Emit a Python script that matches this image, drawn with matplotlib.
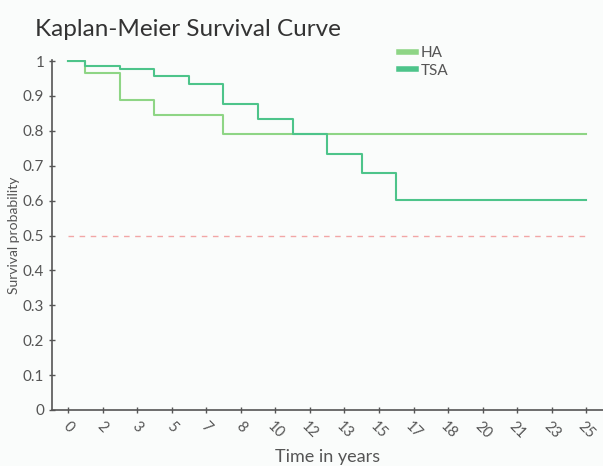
import matplotlib
matplotlib.use("Agg")
import matplotlib.pyplot as plt
import numpy as np

# Data
tick_labels = ["0", "2", "3", "5", "7", "8", "10", "12", "13", "15", "17", "18", "20", "21", "23", "25"]
ha_times = [0, 0.83, 2.5, 4.17, 7.5, 25]
ha_surv = [1.0, 0.967, 0.887, 0.844, 0.791, 0.791]
tsa_times = [0, 0.83, 2.5, 4.17, 5.83, 7.5, 9.17, 10.83, 12.5, 14.17, 15.83, 25]
tsa_surv = [1.0, 0.986, 0.976, 0.956, 0.933, 0.878, 0.834, 0.790, 0.734, 0.679, 0.603, 0.603]
y_ticks = [0, 0.1, 0.2, 0.3, 0.4, 0.5, 0.6, 0.7, 0.8, 0.9, 1]
y_tick_labels = ["0", "0.1", "0.2", "0.3", "0.4", "0.5", "0.6", "0.7", "0.8", "0.9", "1"]

plt.rcParams['font.family'] = ['Lato', 'DejaVu Sans']
FW = 'normal'
txt = '#555555'

fig = plt.figure(figsize=(6.03, 4.66), dpi=100)
fig.patch.set_facecolor('#fafcfb')
ax = fig.add_axes([0.0862, 0.1202, 0.9138, 0.7510])
ax.set_facecolor('#fafcfb')

ax.step(ha_times, ha_surv, where='post', color='#8ed585', lw=1.5, label='HA', zorder=3)
ax.step(tsa_times, tsa_surv, where='post', color='#4dc48a', lw=1.5, label='TSA', zorder=3)
ax.plot([0, 25], [0.5, 0.5], ls=(0, (4, 4)), color='#f2a6a6', lw=1.0)

ax.set_xlim(-0.77, 25.8)
ax.set_ylim(0, 1.003)
xt = np.linspace(0, 25, len(tick_labels))
ax.set_xticks(xt)
ax.set_xticklabels(tick_labels, rotation=-45, ha='center', fontsize=10.5, fontweight=FW, color=txt)
ax.set_yticks(y_ticks)
ax.set_yticklabels(y_tick_labels, fontsize=11, fontweight=FW, color=txt)
ax.tick_params(axis='both', direction='inout', length=5, width=1, color='#555555', pad=3)
ax.tick_params(axis='x', pad=4)
for s in ['top', 'right']:
    ax.spines[s].set_visible(False)
for s in ['left', 'bottom']:
    ax.spines[s].set_color('#555555')
    ax.spines[s].set_linewidth(1.2)

ax.set_xlabel('Time in years', fontsize=13, fontweight=FW, color=txt, labelpad=6)
ax.set_ylabel('Survival probability', fontsize=10, fontweight=FW, color=txt, labelpad=2)

fig.text(35/603, 1 - 30/466, 'Kaplan-Meier Survival Curve', fontsize=17.5, fontweight=FW,
         color='#333333', ha='left', va='center')

leg = ax.legend(loc='upper left', bbox_to_anchor=(399/603, 1 - 46/466), frameon=False,
                handlelength=1.1, handletextpad=0.3, labelspacing=0.25,
                borderaxespad=0, borderpad=0,
                prop={'weight': FW, 'size': 11}, bbox_transform=fig.transFigure)
for h in leg.get_lines():
    h.set_linewidth(4)
for t in leg.get_texts():
    t.set_color(txt)

fig.savefig('out.png', dpi=100, facecolor=fig.get_facecolor())
